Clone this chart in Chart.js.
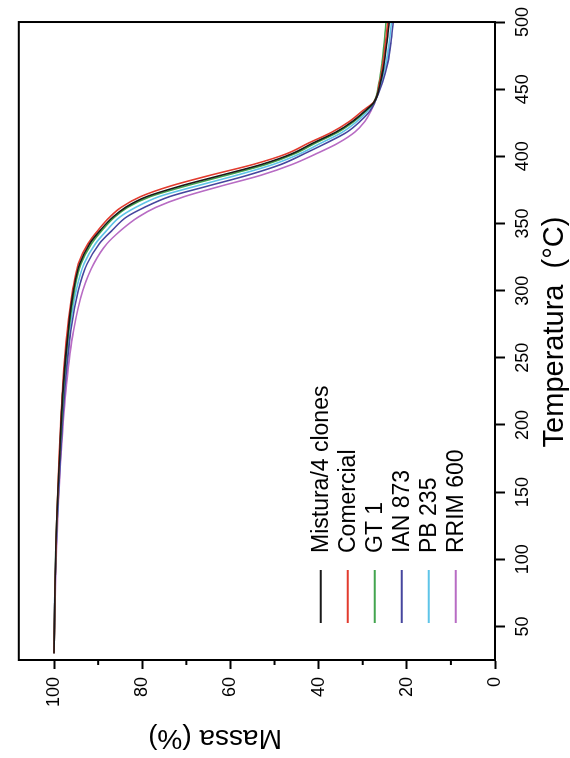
<!DOCTYPE html>
<html>
<head>
<meta charset="utf-8">
<script src="https://cdn.jsdelivr.net/npm/chart.js@4.4.1/dist/chart.umd.min.js"></script>
<style>
  html, body { margin: 0; padding: 0; background: #fff; overflow: hidden; }
  /* the figure is printed turned on its side, so the whole chart is rotated */
  #wrap {
    position: absolute; left: 0; top: 0;
    width: 758px; height: 570px;
    transform-origin: 0 0;
    transform: translateY(758px) rotate(-90deg);
  }
</style>
</head>
<body>
<div id="wrap"><canvas id="myChart" width="758" height="570"></canvas></div>
<script>
// temperature (°C) at which the mass was read
const temperatura = [30, 80, 130, 180, 230, 270, 300, 320, 335, 345, 355, 362, 370, 378, 386, 394, 402, 410, 418, 426, 434, 440, 455, 470, 485, 500];

// massa (%) for each sample
const mistura   = [100, 99.8, 99.4, 98.7, 97.9, 96.8, 95.6, 94.2, 91.9, 89.5, 86.6, 83.8, 79.0, 71.2, 62.0, 52.9, 46.0, 41.2, 36.1, 32.3, 29.4, 27.5, 26.0, 25.1, 24.5, 24.0];
const comercial = [100, 99.8, 99.4, 98.8, 98.0, 97.0, 95.8, 94.5, 92.3, 90.0, 87.3, 84.8, 80.4, 73.5, 64.5, 54.8, 47.2, 42.2, 37.0, 33.0, 30.0, 27.6, 26.2, 25.4, 24.8, 24.3];
const gt1       = [100, 99.8, 99.4, 98.7, 97.8, 96.7, 95.4, 93.9, 91.5, 89.1, 86.2, 83.3, 78.2, 70.0, 60.8, 51.9, 45.4, 40.6, 35.6, 32.0, 29.2, 27.5, 26.3, 25.6, 25.1, 24.7];
const ian873    = [100, 99.8, 99.3, 98.5, 97.5, 96.2, 94.5, 92.5, 89.7, 86.8, 83.5, 79.5, 73.8, 65.0, 56.0, 48.5, 43.2, 38.2, 33.6, 30.6, 28.3, 27.3, 25.5, 24.3, 23.6, 23.1];
const pb235     = [100, 99.8, 99.3, 98.6, 97.7, 96.5, 95.0, 93.2, 90.6, 88.0, 85.0, 81.5, 76.2, 67.6, 58.5, 50.3, 44.2, 39.4, 34.6, 31.3, 28.8, 27.4, 25.8, 24.7, 24.0, 23.5];
const rrim600   = [100, 99.7, 99.2, 98.4, 97.2, 95.6, 93.5, 91.0, 88.0, 84.8, 80.8, 76.9, 70.5, 62.0, 53.0, 46.0, 40.5, 35.5, 31.8, 29.5, 28.1, 27.3, 26.0, 25.2, 24.6, 24.2];

const sampleNames = ['Mistura/4 clones', 'Comercial', 'GT 1', 'IAN 873', 'PB 235', 'RRIM 600'];
const sampleData = [mistura, comercial, gt1, ian873, pb235, rrim600];
const sampleColors = ['#1a1a1a', '#e23b2e', '#43a54f', '#46469e', '#5ec4e8', '#b86cc4'];

const massaTicks = [0, 20, 40, 60, 80, 100];
const massaMinor = [10, 30, 50, 70, 90];
const tempTicks = [50, 100, 150, 200, 250, 300, 350, 400, 450, 500];

const FONT = '"Liberation Sans", Arial, sans-serif';
Chart.defaults.font.family = FONT;
Chart.defaults.color = '#000';

const toPoints = (values) => values.map((v, i) => ({ x: temperatura[i], y: v }));

// frame, minor ticks, axis titles and the legend inside the plot
const extras = {
  id: 'extras',
  afterDraw(chart) {
    const ctx = chart.ctx;
    const ca = chart.chartArea;
    ctx.save();
    ctx.strokeStyle = '#000';
    ctx.lineWidth = 2;
    ctx.strokeRect(ca.left, ca.top, ca.right - ca.left, ca.bottom - ca.top);

    const ys = chart.scales.y;
    for (let v of massaMinor) {
      let py = ys.getPixelForValue(v);
      ctx.beginPath();
      ctx.moveTo(ca.left, py);
      ctx.lineTo(ca.left - 5, py);
      ctx.stroke();
    }

    ctx.fillStyle = '#000';
    ctx.font = '29px ' + FONT;
    ctx.textAlign = 'center';
    ctx.textBaseline = 'middle';
    ctx.fillText('Temperatura  (°C)', 426, 555);

    ctx.font = '28px ' + FONT;
    ctx.save();
    ctx.translate(20, 215);
    ctx.rotate(-Math.PI / 2);
    ctx.fillText('Massa (%)', 0, 0);
    ctx.restore();

    ctx.font = '23px ' + FONT;
    ctx.textAlign = 'left';
    chart.data.datasets.forEach((ds, i) => {
      let y = ca.top + 302 + i * 27;
      ctx.strokeStyle = ds.borderColor;
      ctx.lineWidth = 2;
      ctx.beginPath();
      ctx.moveTo(ca.left + 37, y);
      ctx.lineTo(ca.left + 90, y);
      ctx.stroke();
      ctx.fillText(ds.label, ca.left + 107, y + 1);
    });
    ctx.restore();
  }
};

let ctx = document.getElementById('myChart').getContext('2d');
let chart = new Chart(ctx, {
  type: 'line',
  data: {
    datasets: sampleNames.map((name, i) => ({
      label: name,
      data: toPoints(sampleData[i]),
      borderColor: sampleColors[i],
      borderWidth: 1.6,
      pointRadius: 0,
      fill: false,
      cubicInterpolationMode: 'monotone',
    }))
  },
  options: {
    responsive: false,
    animation: false,
    devicePixelRatio: 1,
    layout: { padding: { top: 10, right: 19, left: 0, bottom: 0 } },
    plugins: {
      legend: { display: false },
      tooltip: { enabled: false }
    },
    scales: {
      x: {
        type: 'linear',
        min: 25,
        max: 500,
        afterFit: (scale) => { scale.height = 75 },
        afterBuildTicks: (scale) => {
          scale.ticks = tempTicks.map(v => ({ value: v }))
        },
        ticks: { font: { size: 18 }, padding: 7, maxRotation: 0, autoSkip: false },
        grid: { drawOnChartArea: false, tickLength: 10, tickWidth: 2, tickColor: '#000' },
        border: { display: true, color: '#000', width: 2 }
      },
      y: {
        type: 'linear',
        min: 0,
        max: 108,
        afterFit: (scale) => { scale.width = 98 },
        afterBuildTicks: (scale) => {
          scale.ticks = massaTicks.map(v => ({ value: v }))
        },
        ticks: { font: { size: 18 }, padding: 8, autoSkip: false },
        grid: { drawOnChartArea: false, tickLength: 9, tickWidth: 2, tickColor: '#000' },
        border: { display: true, color: '#000', width: 2 }
      }
    }
  },
  plugins: [extras]
});
</script>
</body>
</html>
